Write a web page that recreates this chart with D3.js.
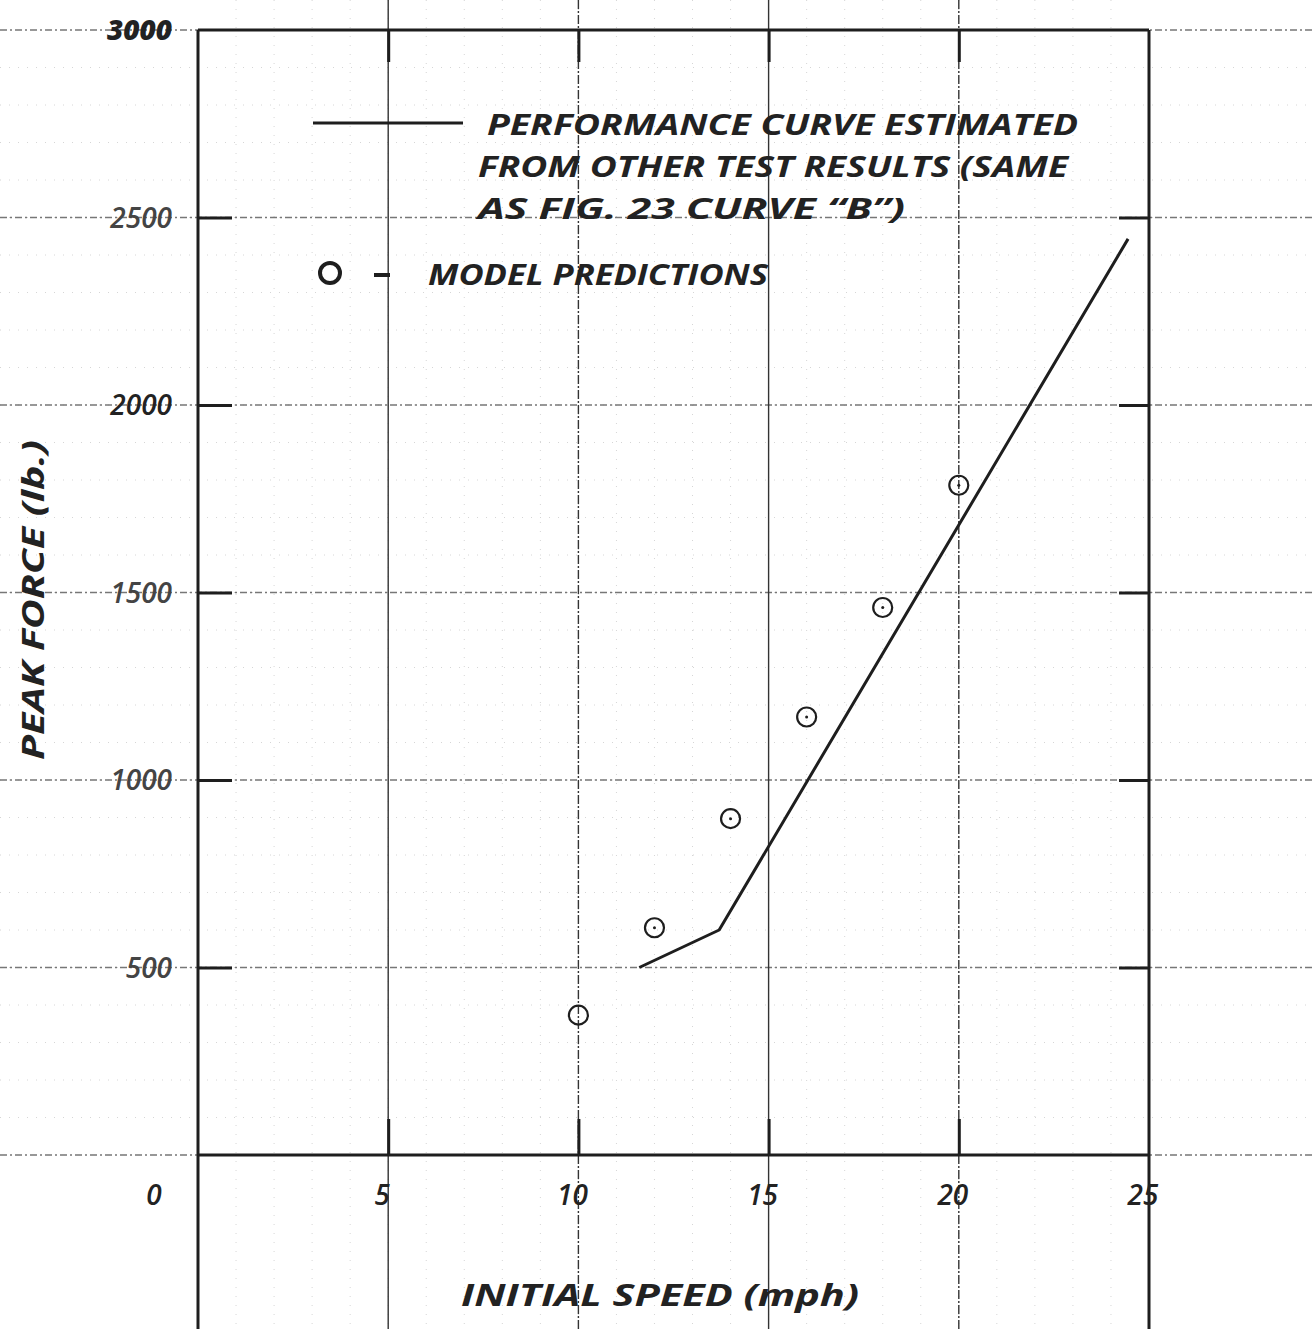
<!DOCTYPE html>
<html>
<head>
<meta charset="utf-8">
<script src="https://cdn.jsdelivr.net/npm/d3@7"></script>
<style>
  body { margin: 0; background: #fff; }
</style>
</head>
<body>
<div class="chart-div"></div>
<script>
//--------------------------- Data

var speeds = [10, 12, 14, 16, 18, 20];
var predictions = [373, 606, 897, 1168, 1460, 1786];

var curveSpeed = [11.6, 13.7, 24.45];
var curveForce = [500, 600, 2443];

var xTicks = [5, 10, 15, 20, 25];
var yTicks = [500, 1000, 1500, 2000, 2500, 3000];

var legendLines = ["PERFORMANCE CURVE ESTIMATED", "FROM OTHER TEST RESULTS (SAME", "AS FIG. 23 CURVE \u201CB\u201D)"];

//--------------------------- SVG definition

var width = 1314;
var height = 1329;
var ink = "#1e1e1e";
var font = "'Open Sans', 'DejaVu Sans', sans-serif";

var svg = d3.select("div.chart-div")
    .append("svg")
    .attr("width", width)
    .attr("height", height);

var x = d3.scaleLinear().domain([0, 25]).range([198, 1149]);
var y = d3.scaleLinear().domain([0, 3000]).range([1155, 30]);

grid = svg.append("g")
frame = svg.append("g")
marks = svg.append("g")
labels = svg.append("g")

//--------------------------- Faint graph paper

grid.selectAll("line.minx").data(d3.range(1, 25)).enter()
    .append("line")
    .attr("x1", d => x(d)).attr("x2", d => x(d))
    .attr("y1", 0).attr("y2", height)
    .attr("stroke", "#d6d6d6")
    .attr("stroke-width", 1)
    .attr("stroke-dasharray", "1,8");

grid.selectAll("line.miny").data(d3.range(100, 3000, 100)).enter()
    .append("line")
    .attr("x1", 0).attr("x2", width)
    .attr("y1", d => y(d)).attr("y2", d => y(d))
    .attr("stroke", "#d6d6d6")
    .attr("stroke-width", 1)
    .attr("stroke-dasharray", "1,8");

//--------------------------- Major grid lines

grid.selectAll("line.hy").data([0].concat(yTicks)).enter()
    .append("line")
    .attr("x1", 0).attr("x2", width)
    .attr("y1", d => y(d)).attr("y2", d => y(d))
    .attr("stroke", "#777")
    .attr("stroke-width", 1.3)
    .attr("stroke-dasharray", "7,3,2,3");

grid.selectAll("line.vx").data([5, 10, 15, 20]).enter()
    .append("line")
    .attr("x1", d => x(d)).attr("x2", d => x(d))
    .attr("y1", 0).attr("y2", height)
    .attr("stroke", "#333")
    .attr("stroke-width", 1.4)
    .attr("stroke-dasharray", d => d % 10 == 0 ? "9,2,2,2" : null);

//--------------------------- Frame and axes

frame.append("line")
    .attr("x1", x(0)).attr("x2", x(0)).attr("y1", y(3000)).attr("y2", height)
    .attr("stroke", ink).attr("stroke-width", 3);
frame.append("line")
    .attr("x1", x(25)).attr("x2", x(25)).attr("y1", y(3000)).attr("y2", height)
    .attr("stroke", ink).attr("stroke-width", 3);
frame.append("line")
    .attr("x1", x(0)).attr("x2", x(25)).attr("y1", y(3000)).attr("y2", y(3000))
    .attr("stroke", ink).attr("stroke-width", 3);
frame.append("line")
    .attr("x1", x(0)).attr("x2", x(25)).attr("y1", y(0)).attr("y2", y(0))
    .attr("stroke", ink).attr("stroke-width", 3);

// inward ticks on all four sides
var axisStyle = function (g) {
    g.select(".domain").remove();
    g.selectAll(".tick text").remove();
    g.selectAll(".tick line").attr("stroke", ink).attr("stroke-width", 3);
}

frame.append("g").attr("transform", "translate(" + x(0) + ",0)")
    .call(d3.axisLeft(y).tickValues([500, 1000, 1500, 2000, 2500]).tickSize(-34)).call(axisStyle);
frame.append("g").attr("transform", "translate(" + x(25) + ",0)")
    .call(d3.axisRight(y).tickValues([500, 1000, 1500, 2000, 2500]).tickSize(-30)).call(axisStyle);
frame.append("g").attr("transform", "translate(0," + y(0) + ")")
    .call(d3.axisBottom(x).tickValues([5, 10, 15, 20]).tickSize(-36)).call(axisStyle);
frame.append("g").attr("transform", "translate(0," + y(3000) + ")")
    .call(d3.axisTop(x).tickValues([5, 10, 15, 20]).tickSize(-32)).call(axisStyle);

//--------------------------- Tick labels

labels.selectAll("text.ylab").data(yTicks).enter()
    .append("text")
    .attr("x", x(0) - 26)
    .attr("y", d => y(d))
    .attr("dy", "0.36em")
    .attr("text-anchor", "end")
    .attr("font-family", font)
    .attr("font-style", "italic")
    .attr("font-weight", d => d == 3000 ? 800 : 600)
    .attr("font-size", 28)
    .attr("fill", d => d == 3000 || d == 2000 ? "#222" : "#444")
    .text(d => d);

labels.selectAll("text.xlab").data(xTicks).enter()
    .append("text")
    .attr("x", d => x(d) - 6)
    .attr("y", y(0) + 50)
    .attr("text-anchor", "middle")
    .attr("font-family", font)
    .attr("font-style", "italic")
    .attr("font-weight", 600)
    .attr("font-size", 28)
    .attr("fill", "#222")
    .text(d => d);

labels.append("text")
    .attr("x", x(0) - 44)
    .attr("y", y(0) + 50)
    .attr("text-anchor", "middle")
    .attr("font-family", font)
    .attr("font-style", "italic")
    .attr("font-weight", 600)
    .attr("font-size", 28)
    .attr("fill", "#222")
    .text("0");

//--------------------------- Axis titles

labels.append("text")
    .attr("transform", "translate(44,600) rotate(-90)")
    .attr("text-anchor", "middle")
    .attr("font-family", font)
    .attr("font-style", "italic")
    .attr("font-weight", 700)
    .attr("font-size", 30)
    .attr("fill", "#222")
    .attr("textLength", 320)
    .attr("lengthAdjust", "spacingAndGlyphs")
    .text("PEAK FORCE (lb.)");

labels.append("text")
    .attr("x", 461)
    .attr("y", 1306)
    .attr("font-family", font)
    .attr("font-style", "italic")
    .attr("font-weight", 700)
    .attr("font-size", 30)
    .attr("fill", "#222")
    .attr("textLength", 398)
    .attr("lengthAdjust", "spacingAndGlyphs")
    .text("INITIAL SPEED (mph)");

//--------------------------- Performance curve and model predictions

var lineGenerator = d3.line()
    .x(function (d, i) { return x(curveSpeed[i]); })
    .y(function (d, i) { return y(curveForce[i]); });

marks.append("path")
    .attr("d", lineGenerator(curveSpeed))
    .attr("fill", "none")
    .attr("stroke", ink)
    .attr("stroke-width", 3)
    .attr("stroke-linejoin", "round");

marks.selectAll("circle.pt").data(speeds).enter()
    .append("circle")
    .attr("cx", d => x(d))
    .attr("cy", (d, i) => y(predictions[i]))
    .attr("r", 9.5)
    .attr("fill", "none")
    .attr("stroke", ink)
    .attr("stroke-width", 2.2);

marks.selectAll("circle.dot").data(speeds.slice(1)).enter()
    .append("circle")
    .attr("cx", d => x(d))
    .attr("cy", (d, i) => y(predictions[i + 1]))
    .attr("r", 1.5)
    .attr("fill", ink);

//--------------------------- Legend

var legend = svg.append("g");
legend.append("line")
    .attr("x1", 313).attr("x2", 463).attr("y1", 123).attr("y2", 123)
    .attr("stroke", ink).attr("stroke-width", 3);

var legendX = [487, 478, 478];
var legendW = [591, 590, 427];
for (k = 0; k < legendLines.length; k++) {
    legend.append("text")
        .attr("x", legendX[k])
        .attr("y", 135 + k * 42)
        .attr("font-family", font)
        .attr("font-style", "italic")
        .attr("font-weight", 700)
        .attr("font-size", 28)
        .attr("fill", "#222")
        .attr("textLength", legendW[k])
        .attr("lengthAdjust", "spacingAndGlyphs")
        .text(legendLines[k]);
}

legend.append("circle")
    .attr("cx", 330).attr("cy", 273).attr("r", 10)
    .attr("fill", "none").attr("stroke", ink).attr("stroke-width", 4);
legend.append("line")
    .attr("x1", 374).attr("x2", 390).attr("y1", 275).attr("y2", 275)
    .attr("stroke", ink).attr("stroke-width", 4);
legend.append("text")
    .attr("x", 428)
    .attr("y", 285)
    .attr("font-family", font)
    .attr("font-style", "italic")
    .attr("font-weight", 700)
    .attr("font-size", 28)
    .attr("fill", "#222")
    .attr("textLength", 340)
    .attr("lengthAdjust", "spacingAndGlyphs")
    .text("MODEL PREDICTIONS");
</script>
</body>
</html>
